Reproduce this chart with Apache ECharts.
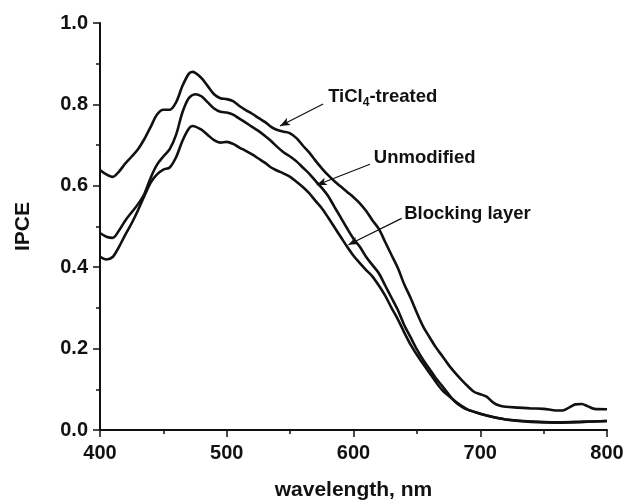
<!DOCTYPE html>
<html>
<head>
<meta charset="utf-8">
<script src="https://cdn.jsdelivr.net/npm/echarts@6/dist/echarts.min.js"></script>
<style>html,body{margin:0;padding:0;background:#fff}#c{width:627px;height:502px}</style>
</head>
<body>
<div id="c"></div>
<script>
var ticlWl = [400,405,410,415,420,425,430,435,440,445,450,455,460,465,470,473,480,485,490,495,500,505,510,515,520,525,530,535,540,545,550,555,560,565,570,575,580,585,590,595,600,605,610,615,620,625,630,635,640,645,650,655,660,665,670,675,680,685,690,695,700,705,710,715,720,730,740,750,760,765,770,775,780,785,790,800];
var ticlVal = [0.639,0.628,0.622,0.635,0.655,0.672,0.690,0.715,0.745,0.775,0.787,0.787,0.805,0.845,0.875,0.880,0.865,0.845,0.825,0.815,0.813,0.808,0.796,0.786,0.777,0.767,0.757,0.745,0.737,0.733,0.729,0.717,0.699,0.682,0.662,0.643,0.626,0.611,0.598,0.585,0.572,0.557,0.538,0.515,0.494,0.462,0.430,0.398,0.358,0.325,0.288,0.254,0.228,0.203,0.182,0.160,0.141,0.124,0.108,0.094,0.088,0.082,0.068,0.060,0.057,0.055,0.053,0.052,0.048,0.048,0.055,0.063,0.064,0.058,0.052,0.051];

var unmodWl = [400,405,410,415,420,425,430,435,440,445,450,455,460,465,470,475,480,485,490,495,500,505,510,515,520,525,530,535,540,545,550,555,560,565,570,575,580,585,590,595,600,605,610,615,620,625,630,635,640,645,650,655,660,665,670,675,680,685,690,700,710,720,740,760,780,800];
var unmodVal = [0.484,0.475,0.472,0.490,0.515,0.535,0.555,0.580,0.620,0.652,0.672,0.690,0.725,0.780,0.815,0.825,0.820,0.805,0.790,0.782,0.780,0.775,0.765,0.755,0.745,0.735,0.723,0.710,0.695,0.682,0.672,0.660,0.645,0.630,0.612,0.595,0.575,0.548,0.522,0.495,0.470,0.450,0.425,0.405,0.385,0.355,0.325,0.295,0.258,0.228,0.198,0.172,0.150,0.127,0.108,0.088,0.070,0.058,0.050,0.040,0.032,0.026,0.021,0.019,0.020,0.022];

var blockWl = [400,405,410,415,420,425,430,435,440,445,450,455,460,465,470,473,480,485,490,495,500,505,510,515,520,525,530,535,540,545,550,555,560,565,570,575,580,585,590,595,600,605,610,615,620,625,630,635,640,645,650,655,660,665,670,675,680,685,690,700,710,720,740,760,780,800];
var blockVal = [0.426,0.419,0.425,0.450,0.480,0.508,0.540,0.575,0.608,0.628,0.640,0.645,0.670,0.710,0.740,0.747,0.738,0.725,0.712,0.706,0.708,0.703,0.694,0.686,0.677,0.667,0.657,0.645,0.637,0.630,0.622,0.610,0.597,0.582,0.563,0.545,0.522,0.498,0.474,0.450,0.428,0.410,0.393,0.377,0.355,0.330,0.300,0.272,0.240,0.210,0.185,0.162,0.140,0.118,0.098,0.084,0.071,0.060,0.050,0.040,0.032,0.026,0.020,0.018,0.020,0.022];

// annotation anchors in data space: [text position], [arrow start], [arrow end]
var annTicl = {text:[580,0.818], from:[576,0.801], to:[542,0.747]};
var annUnmod = {text:[616,0.669], from:[613,0.653], to:[571,0.602]};
var annBlock = {text:[640,0.531], from:[638,0.520], to:[596,0.455]};

function pairs(x, y){ return x.map(function(v,i){return [v, y[i]];}); }

var FONT = 'Liberation Sans, Arial, sans-serif';
var INK = '#111';

function arrowLine(a){
  return {
    silent:true, symbol:['none','arrow'], symbolSize:[6,10], animation:false,
    lineStyle:{color:INK, width:1.2, type:'solid'},
    label:{show:false},
    data:[[{coord:a.from},{coord:a.to}]]
  };
}
function annLabel(a, fmt){
  return {
    silent:true, symbol:'circle', symbolSize:0, animation:false,
    label:{show:true, position:'right', distance:0, formatter:fmt, color:INK,
      fontFamily:FONT, fontWeight:'bold', fontSize:18.5,
      rich:{
        a:{fontFamily:FONT, fontWeight:'bold', fontSize:18.5, color:INK},
        s:{fontFamily:FONT, fontWeight:'bold', fontSize:12, color:INK, padding:[12,0,0,0]}
      }},
    data:[{coord:a.text}]
  };
}

function mkSeries(name, x, y, ann, fmt){
  return {
    name:name, type:'line', data:pairs(x,y), showSymbol:false, smooth:0.3,
    lineStyle:{color:INK, width:2.6}, itemStyle:{color:INK}, animation:false,
    markLine:arrowLine(ann), markPoint:annLabel(ann, fmt)
  };
}

var chart = echarts.init(document.getElementById('c'), null, {renderer:'canvas'});
chart.setOption({
  backgroundColor:'#fff',
  animation:false,
  grid:{left:100, right:20, top:23, bottom:72, containLabel:false, outerBoundsMode:'none'},
  xAxis:{
    type:'value', min:400, max:800, interval:100,
    name:'wavelength, nm', nameLocation:'middle', nameGap:50,
    nameTextStyle:{fontFamily:FONT, fontWeight:'bold', fontSize:21, color:INK},
    axisLine:{show:true, onZero:false, lineStyle:{color:INK, width:2}},
    axisTick:{show:true, inside:false, length:7, lineStyle:{color:INK, width:1.5}},
    minorTick:{show:true, splitNumber:2, length:4, lineStyle:{color:INK, width:1.5}},
    axisLabel:{fontFamily:FONT, fontWeight:'bold', fontSize:20, color:INK, margin:13},
    splitLine:{show:false}
  },
  yAxis:{
    type:'value', min:0, max:1, interval:0.2,
    name:'IPCE', nameLocation:'middle', nameGap:66, nameRotate:90,
    nameTextStyle:{fontFamily:FONT, fontWeight:'bold', fontSize:21, color:INK},
    axisLine:{show:true, onZero:false, lineStyle:{color:INK, width:2}},
    axisTick:{show:true, inside:false, length:7, lineStyle:{color:INK, width:1.5}},
    minorTick:{show:true, splitNumber:2, length:4, lineStyle:{color:INK, width:1.5}},
    axisLabel:{fontFamily:FONT, fontWeight:'bold', fontSize:20, color:INK, margin:12,
      formatter:function(v){return v.toFixed(1);}},
    splitLine:{show:false}
  },
  series:[
    mkSeries('TiCl4-treated', ticlWl, ticlVal, annTicl, '{a|TiCl}{s|4}{a|-treated}'),
    mkSeries('Unmodified', unmodWl, unmodVal, annUnmod, '{a|Unmodified}'),
    mkSeries('Blocking layer', blockWl, blockVal, annBlock, '{a|Blocking layer}')
  ]
});
</script>
</body>
</html>
